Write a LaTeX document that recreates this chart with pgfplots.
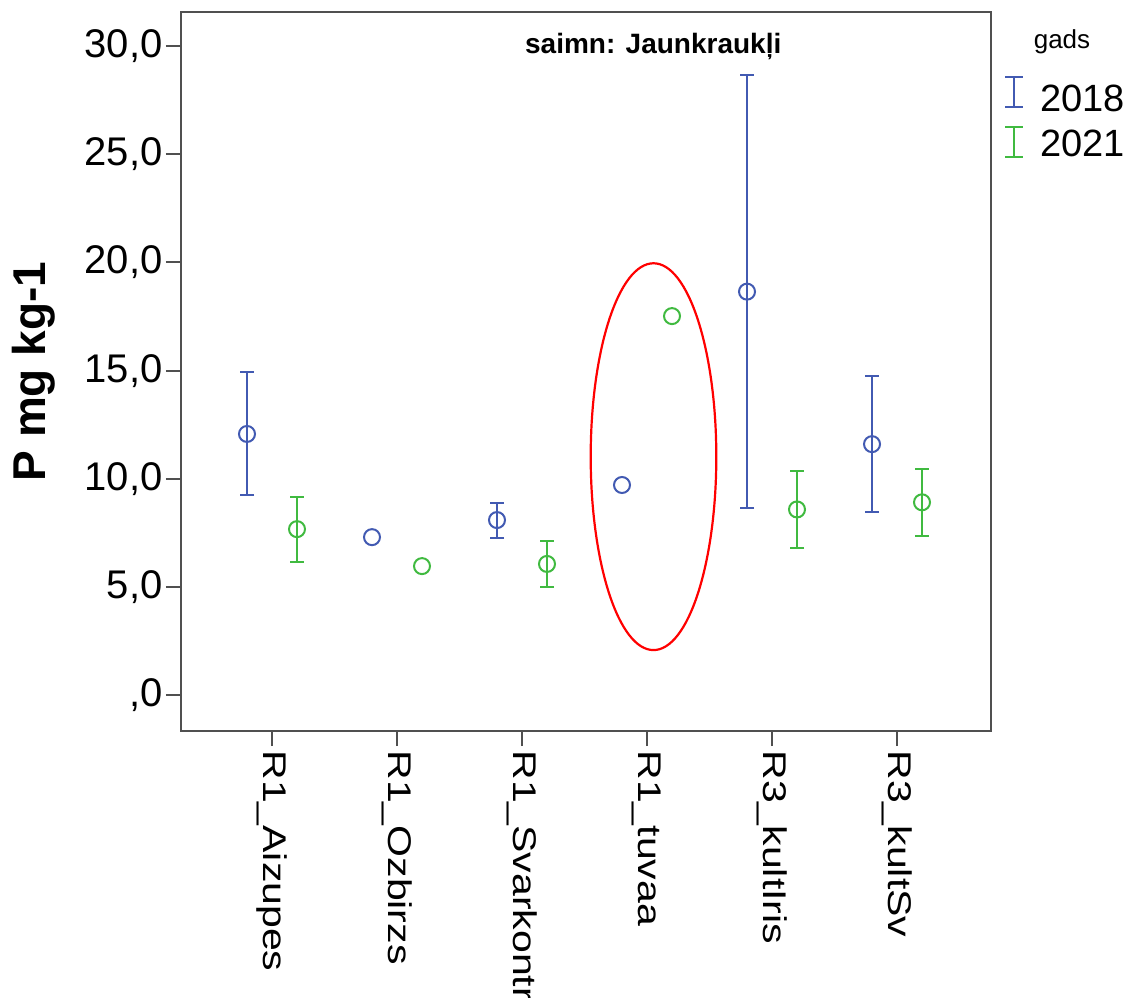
\documentclass[border=0pt]{standalone}
\usepackage{pgfplots}
\pgfplotsset{compat=1.18}
\usepackage{pgfplotstable}
\usepackage{fontspec}
\setmainfont{Liberation Sans}
\definecolor{sblue}{RGB}{66,90,178}
\definecolor{sgreen}{RGB}{64,186,64}
\definecolor{axgray}{RGB}{80,80,80}

% x, y, error plus, error minus
\pgfplotstableread{
x     y      ep     em
-0.2  12.07  2.86   2.82
1.8   8.09   0.79   0.83
3.8   18.65  10.01  9.99
4.8   11.60  3.16   3.15
}\bluerr
\pgfplotstableread{
x     y
0.8   7.30
2.8   9.71
}\bluenoerr
\pgfplotstableread{
x     y      ep     em
0.2   7.67   1.48   1.52
2.2   6.06   1.06   1.07
4.2   8.58   1.78   1.80
5.2   8.91   1.54   1.54
}\greenerr
\pgfplotstableread{
x     y
1.2   5.96
3.2   17.52
}\greennoerr

\begin{document}
\begin{tikzpicture}
\begin{axis}[
  scale only axis,
  width=405pt, height=359.5pt,
  xmin=-0.728, xmax=5.752,
  ymin=-1.664, ymax=31.58,
  axis line style={axgray, line width=1pt},
  tick style={axgray, line width=1pt},
  tick align=outside,
  major tick length=7.5pt,
  xtick={0,1,2,3,4,5},
  xticklabels={R1\_Aizupes,R1\_Ozbirzs,R1\_Svarkontr,R1\_tuvaa,R3\_kultIris,R3\_kultSv},
  xticklabel style={rotate=-90, yscale=0.8, anchor=west, font=\fontsize{20.5}{24}\selectfont, inner sep=2pt},
  ytick={0,5,10,15,20,25,30},
  yticklabels={{,0},{5,0},{10,0},{15,0},{20,0},{25,0},{30,0}},
  yticklabel style={font=\fontsize{20}{24}\selectfont, inner sep=1.5pt},
  xtick pos=bottom, ytick pos=left,
  ylabel={P mg kg-1},
  every axis y label/.style={at={(rel axis cs:0,0.5)}, xshift=-73.5pt, rotate=90, anchor=center, font=\bfseries\fontsize{23}{26}\selectfont},
  clip=false,
]
\addplot[sblue, line width=1pt, only marks, mark=o, mark size=4pt,
  error bars/.cd, y dir=both, y explicit,
  error bar style={line width=1pt, sblue},
  error mark options={rotate=90, mark size=3.5pt, line width=1pt, sblue}]
  table[x=x, y=y, y error plus=ep, y error minus=em]{\bluerr};
\addplot[sblue, line width=1pt, only marks, mark=o, mark size=4pt] table[x=x,y=y]{\bluenoerr};
\addplot[sgreen, line width=1pt, only marks, mark=o, mark size=4pt,
  error bars/.cd, y dir=both, y explicit,
  error bar style={line width=1pt, sgreen},
  error mark options={rotate=90, mark size=3.5pt, line width=1pt, sgreen}]
  table[x=x, y=y, y error plus=ep, y error minus=em]{\greenerr};
\addplot[sgreen, line width=1pt, only marks, mark=o, mark size=4pt] table[x=x,y=y]{\greennoerr};
\node[font=\bfseries\fontsize{14}{16}\selectfont] at (axis cs:3.05,29.98) {saimn: Jaunkraukļi};
\coordinate (ec) at (axis cs:3.052,11.02);
\coordinate (SW) at (rel axis cs:0,0);
\coordinate (NE) at (rel axis cs:1,1);
\end{axis}
\draw[red, line width=1.1pt] (ec) ellipse [x radius=31.4pt, y radius=96.7pt];
% legend
\node[font=\fontsize{13}{15}\selectfont, anchor=center] at ([xshift=35.5pt,yshift=-15pt]NE) {gads};
\begin{scope}[shift={([xshift=11.5pt,yshift=-40pt]NE)}]
  \draw[sblue, line width=1pt] (0,-7.5pt)--(0,7.5pt) (-4.5pt,-7.5pt)--(4.5pt,-7.5pt) (-4.5pt,7.5pt)--(4.5pt,7.5pt);
\end{scope}
\begin{scope}[shift={([xshift=11.5pt,yshift=-65pt]NE)}]
  \draw[sgreen, line width=1pt] (0,-7.5pt)--(0,7.5pt) (-4.5pt,-7.5pt)--(4.5pt,-7.5pt) (-4.5pt,7.5pt)--(4.5pt,7.5pt);
\end{scope}
\node[font=\fontsize{19}{22}\selectfont, anchor=west, inner sep=0pt] at ([xshift=24.5pt,yshift=-43pt]NE) {2018};
\node[font=\fontsize{19}{22}\selectfont, anchor=west, inner sep=0pt] at ([xshift=24.5pt,yshift=-65.5pt]NE) {2021};
\pgfresetboundingbox
\path ([xshift=-90.5pt,yshift=-133pt]SW) rectangle ++(569pt,498.5pt);
\end{tikzpicture}
\end{document}
